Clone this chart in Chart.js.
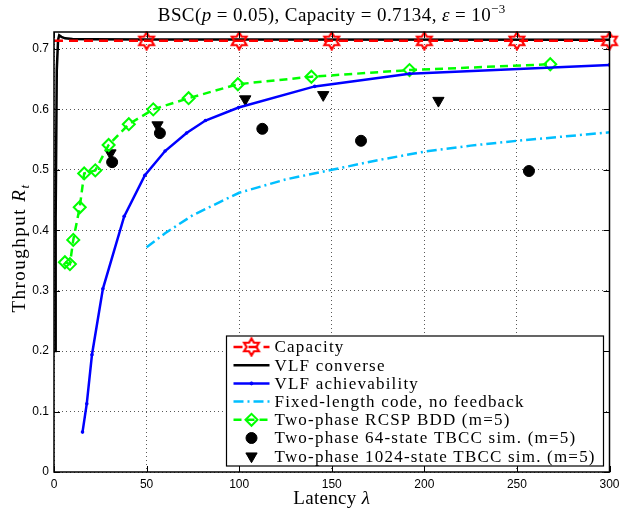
<!DOCTYPE html>
<html>
<head>
<meta charset="utf-8">
<script src="https://cdn.jsdelivr.net/npm/chart.js@4.4.1/dist/chart.umd.min.js"></script>
<style>
  html, body { margin: 0; padding: 0; background: #fff; }
  #wrap { width: 622px; height: 512px; }
</style>
</head>
<body>
<div id="wrap"><canvas id="chartCanvas"></canvas></div>
<script>
// values
const capLambda = [0, 50, 100, 150, 200, 250, 300];
const capRate = [0.7134, 0.7134, 0.7134, 0.7134, 0.7134, 0.7134, 0.7134];

const converseLambda = [0.6, 0.9, 1.5, 2.2, 2.8, 4, 6, 10, 20, 50, 100, 300];
const converseRate = [0.2, 0.42, 0.665, 0.715, 0.7226, 0.72, 0.7175, 0.7163, 0.716, 0.7157, 0.7155, 0.7152];

const achLambda = [15.4, 17.7, 20.5, 26.4, 37.9, 49.1, 60, 71.6, 81.8, 99.7, 140.8, 192, 300];
const achRate = [0.066, 0.113, 0.194, 0.303, 0.423, 0.491, 0.531, 0.561, 0.5815, 0.603, 0.638, 0.659, 0.6736];

const fixedLambda = [50, 60, 75, 100, 125, 150, 175, 200, 225, 250, 275, 300];
const fixedRate = [0.372, 0.395, 0.425, 0.462, 0.484, 0.5, 0.516, 0.53, 0.54, 0.548, 0.555, 0.562];

const rcspLambda = [5.9, 8.6, 10.4, 13.9, 16.3, 22.3, 29.5, 40.4, 53.6, 72.7, 99.3, 139, 192, 268];
const rcspRate = [0.347, 0.344, 0.384, 0.438, 0.494, 0.499, 0.541, 0.5755, 0.6, 0.6185, 0.6416, 0.654, 0.665, 0.6747];

const tbcc64Lambda = [31.4, 57.2, 112.5, 165.8, 256.5];
const tbcc64Rate = [0.5127, 0.5607, 0.5678, 0.548, 0.498];

const tbcc1024Lambda = [30.5, 55.9, 103.3, 145.4, 207.6];
const tbcc1024Rate = [0.5276, 0.574, 0.617, 0.624, 0.6145];

const xTicks = [0, 50, 100, 150, 200, 250, 300];
const yTicks = [0, 0.1, 0.2, 0.3, 0.4, 0.5, 0.6, 0.7];

const legendLabels = [
  'Capacity',
  'VLF converse',
  'VLF achievability',
  'Fixed-length code, no feedback',
  'Two-phase RCSP BDD (m=5)',
  'Two-phase 64-state TBCC sim. (m=5)',
  'Two-phase 1024-state TBCC sim. (m=5)'
];

const serif = '"Liberation Serif", "DejaVu Serif", serif';
const sans = '"Liberation Sans", Arial, sans-serif';

const toPoints = (xs, ys) => xs.map((x, i) => ({ x: x, y: ys[i] }));

// hexagram marker like matlab 'h'
function hexagram(size, color) {
  const c = document.createElement('canvas');
  c.width = size; c.height = size;
  const g = c.getContext('2d');
  const cx = size / 2, cy = size / 2;
  const ro = size / 2 - 1.5, ri = ro / Math.sqrt(3);
  g.beginPath();
  for (let k = 0; k < 12; k++) {
    const r = k % 2 === 0 ? ro : ri;
    const a = -Math.PI / 2 + k * Math.PI / 6;
    const px = cx + r * Math.cos(a), py = cy + r * Math.sin(a);
    if (k === 0) g.moveTo(px, py); else g.lineTo(px, py);
  }
  g.closePath();
  g.strokeStyle = color;
  g.lineWidth = 2.2;
  g.stroke();
  return c;
}
const starImg = hexagram(20, '#ff0000');

// draws text made of several font pieces
function richWidth(ctx, parts, sp) {
  let w = 0;
  ctx.letterSpacing = sp + 'px';
  parts.forEach(p => { ctx.font = p.font; w += ctx.measureText(p.t).width; });
  return w;
}
function drawRich(ctx, parts, x, y, sp) {
  let cx = x;
  ctx.letterSpacing = sp + 'px';
  parts.forEach(p => {
    ctx.font = p.font;
    ctx.fillText(p.t, cx, y + (p.dy || 0));
    cx += ctx.measureText(p.t).width;
  });
  ctx.letterSpacing = '0px';
}

const framePlugin = {
  id: 'frame',
  afterDraw(chart) {
    const ctx = chart.ctx;
    const a = chart.chartArea;
    const xs = chart.scales.x, ys = chart.scales.y;
    ctx.save();
    ctx.strokeStyle = '#000';
    ctx.lineWidth = 1.5;
    ctx.strokeRect(a.left, a.top, a.right - a.left, a.bottom - a.top);
    // inward ticks on all sides
    ctx.lineWidth = 1;
    ctx.beginPath();
    xTicks.forEach(v => {
      const px = Math.round(xs.getPixelForValue(v)) + 0.5;
      ctx.moveTo(px, a.bottom); ctx.lineTo(px, a.bottom - 6);
      ctx.moveTo(px, a.top); ctx.lineTo(px, a.top + 6);
    });
    yTicks.forEach(v => {
      const py = Math.round(ys.getPixelForValue(v)) + 0.5;
      ctx.moveTo(a.left, py); ctx.lineTo(a.left + 6, py);
      ctx.moveTo(a.right, py); ctx.lineTo(a.right - 6, py);
    });
    ctx.stroke();

    // title and axis titles
    ctx.fillStyle = '#000';
    ctx.textBaseline = 'alphabetic';
    const rm = '19px ' + serif, it = 'italic 19px ' + serif;
    const title = [
      { t: 'BSC(', font: rm }, { t: 'p', font: it }, { t: ' = 0.05), Capacity = 0.7134, ', font: rm },
      { t: 'ε', font: it }, { t: ' = 10', font: rm }, { t: '−3', font: '13px ' + serif, dy: -8 }
    ];
    const cx = (a.left + a.right) / 2;
    drawRich(ctx, title, cx - richWidth(ctx, title, 0.4) / 2, 21, 0.4);

    const xt = [{ t: 'Latency ', font: rm }, { t: 'λ', font: it }];
    drawRich(ctx, xt, cx - richWidth(ctx, xt, 0.3) / 2, 504, 0.3);

    const yt = [{ t: 'Throughput ', font: rm }, { t: 'R', font: it }, { t: 't', font: 'italic 13px ' + serif, dy: 4 }];
    ctx.save();
    ctx.translate(25, 248);
    ctx.rotate(-Math.PI / 2);
    drawRich(ctx, yt, -richWidth(ctx, yt, 1.5) / 2, 0, 1.5);
    ctx.restore();

    // legend box
    const bw = 377, bh = 130;
    const bx = a.right - 6 - bw, by = a.bottom - 6 - bh;
    ctx.fillStyle = '#fff';
    ctx.fillRect(bx, by, bw, bh);
    ctx.strokeStyle = '#000';
    ctx.lineWidth = 1.2;
    ctx.strokeRect(bx, by, bw, bh);
    ctx.textBaseline = 'middle';
    chart.data.datasets.forEach((ds, i) => {
      const yy = by + 11 + i * 18.2;
      const x0 = bx + 7, x1 = bx + 43, xm = (x0 + x1) / 2;
      if (ds.showLine !== false) {
        ctx.save();
        ctx.strokeStyle = ds.borderColor;
        ctx.lineWidth = ds.borderWidth;
        ctx.setLineDash(ds.borderDash || []);
        ctx.beginPath();
        ctx.moveTo(x0, yy); ctx.lineTo(x1, yy);
        ctx.stroke();
        ctx.restore();
      }
      const ps = ds.legendStyle;
      if (ps) {
        ctx.save();
        ctx.setLineDash([]);
        ctx.fillStyle = ps.fill || '#000';
        ctx.strokeStyle = ps.stroke || '#000';
        ctx.lineWidth = ps.borderWidth || 1;
        Chart.helpers.drawPoint(ctx, {
          pointStyle: ps.style, radius: ps.radius, rotation: ps.rotation || 0,
          borderWidth: ps.borderWidth || 1
        }, xm, yy);
        ctx.restore();
      }
      ctx.fillStyle = '#000';
      ctx.font = '17px ' + serif;
      ctx.letterSpacing = '1.2px';
      ctx.fillText(ds.label, bx + 48, yy + 1);
      ctx.letterSpacing = '0px';
    });
    ctx.restore();
  }
};

const ctx = document.getElementById('chartCanvas').getContext('2d');

new Chart(ctx, {
  type: 'line',
  data: {
    datasets: [
      {
        label: legendLabels[0],
        data: toPoints(capLambda, capRate),
        borderColor: '#ff0000',
        borderWidth: 2.5,
        borderDash: [9, 6],
        pointStyle: starImg,
        pointRadius: capLambda.map(v => v === 0 ? 0 : 10),
        clip: false,
        legendStyle: { style: starImg, radius: 10 }
      },
      {
        label: legendLabels[1],
        data: toPoints(converseLambda, converseRate),
        borderColor: '#000000',
        borderWidth: 2.5,
        pointRadius: 0
      },
      {
        label: legendLabels[2],
        data: toPoints(achLambda, achRate),
        borderColor: '#0000ff',
        backgroundColor: '#0000ff',
        borderWidth: 2.5,
        pointRadius: 1.8,
        pointBorderWidth: 0,
        legendStyle: { style: 'circle', radius: 1.5, fill: '#0000ff', stroke: '#0000ff' }
      },
      {
        label: legendLabels[3],
        data: toPoints(fixedLambda, fixedRate),
        borderColor: 'rgb(0,191,255)',
        borderWidth: 2.5,
        borderDash: [10, 4, 2, 4],
        pointRadius: 0
      },
      {
        label: legendLabels[4],
        data: toPoints(rcspLambda, rcspRate),
        borderColor: '#00ff00',
        borderWidth: 2.5,
        borderDash: [8, 5],
        pointStyle: 'rectRot',
        pointRadius: 6,
        pointBorderWidth: 2,
        pointBackgroundColor: 'rgba(255,255,255,0)',
        legendStyle: { style: 'rectRot', radius: 6, borderWidth: 2, fill: 'rgba(255,255,255,0)', stroke: '#00ff00' }
      },
      {
        label: legendLabels[5],
        data: toPoints(tbcc64Lambda, tbcc64Rate),
        showLine: false,
        borderColor: '#000',
        backgroundColor: '#000',
        pointStyle: 'circle',
        pointRadius: 5.5,
        legendStyle: { style: 'circle', radius: 5.5, fill: '#000', stroke: '#000' }
      },
      {
        label: legendLabels[6],
        data: toPoints(tbcc1024Lambda, tbcc1024Rate),
        showLine: false,
        borderColor: '#000',
        backgroundColor: '#000',
        pointStyle: 'triangle',
        pointRotation: 180,
        pointRadius: 6.5,
        legendStyle: { style: 'triangle', radius: 6.5, rotation: 180, fill: '#000', stroke: '#000' }
      }
    ]
  },
  options: {
    responsive: true,
    maintainAspectRatio: false,
    animation: false,
    layout: { padding: { top: 32, right: 9, left: 0, bottom: 0 } },
    elements: { line: { tension: 0 } },
    scales: {
      x: {
        type: 'linear',
        min: 0,
        max: 300,
        afterFit: (s) => { s.height = 40; s.paddingLeft = 0; s.paddingRight = 0; },
        afterBuildTicks: (s) => { s.ticks = xTicks.map(v => ({ value: v })); },
        ticks: {
          padding: 5,
          color: '#000',
          font: { size: 12, family: sans },
          callback: (v) => String(v)
        },
        grid: { color: 'rgba(0,0,0,0.65)', lineWidth: 1, drawTicks: false },
        border: { display: false, dash: [1, 3] }
      },
      y: {
        type: 'linear',
        min: 0,
        max: 0.728,
        afterFit: (s) => { s.width = 54; },
        afterBuildTicks: (s) => { s.ticks = yTicks.map(v => ({ value: v })); },
        ticks: {
          padding: 5,
          color: '#000',
          font: { size: 12, family: sans },
          callback: (v) => v === 0 ? '0' : v.toFixed(1)
        },
        grid: { color: 'rgba(0,0,0,0.65)', lineWidth: 1, drawTicks: false },
        border: { display: false, dash: [1, 3] }
      }
    },
    plugins: {
      legend: { display: false },
      title: { display: false },
      tooltip: { enabled: false }
    }
  },
  plugins: [framePlugin]
});
</script>
</body>
</html>
